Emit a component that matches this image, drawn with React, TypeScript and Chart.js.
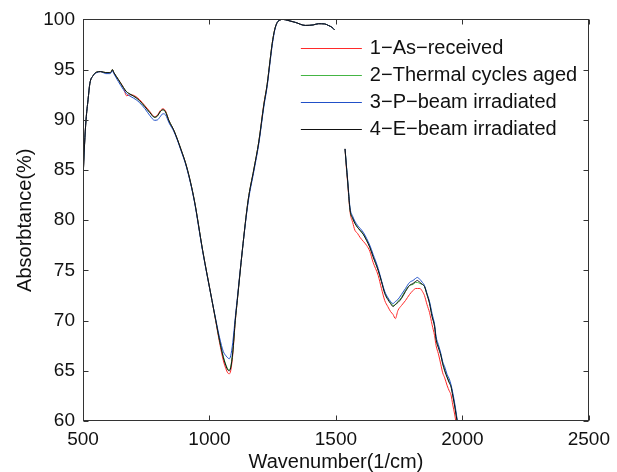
import React, { useEffect, useRef } from "react";
import { Chart, registerables } from "chart.js";
Chart.register(...registerables);

const wavenumbers = [
  500, 506, 512, 520, 527, 540, 554, 570, 590, 606, 612, 616, 622, 640, 660, 672, 690, 710, 724, 745,
  765, 783, 795, 805, 816, 826, 840, 860, 888, 910, 940, 973, 1010, 1025, 1040, 1055, 1065, 1072, 1078, 1084,
  1092, 1102, 1110, 1130, 1153, 1175, 1195, 1215, 1228, 1240, 1248, 1258, 1268, 1280, 1290, 1310, 1340, 1379, 1410, 1431,
  1455, 1470, 1485, 1494, 1515,
  1536, 1541, 1546, 1556, 1566, 1575, 1585, 1595, 1608, 1621, 1634, 1647, 1667, 1680, 1693, 1705, 1716, 1726, 1735, 1745,
  1759, 1775, 1791, 1805, 1815, 1822, 1832, 1842, 1850, 1860, 1870, 1880, 1890, 1896, 1905, 1915, 1922, 1930, 1940, 1948,
  1955, 1962, 1970, 1975, 1979, 1983,
];

const asReceived = [
  84.0, 87.5, 90.0, 92.0, 93.6, 94.4, 94.75, 94.8, 94.7, 94.7, 94.8, 95.0, 94.7, 94.0, 93.2, 92.4, 92.5, 92.3, 92.0, 91.4,
  90.8, 90.3, 90.5, 90.9, 91.1, 90.9, 89.9, 88.9, 87.0, 85.3, 82.0, 77.0, 72.0, 69.9, 67.8, 66.0, 65.2, 64.8, 64.7, 65.0,
  66.6, 69.9, 72.0, 77.0, 82.0, 85.0, 87.8, 91.6, 93.5, 96.0, 97.6, 99.0, 99.7, 99.95, 100.0, 99.9, 99.7, 99.4, 99.45, 99.57,
  99.55, 99.4, 99.2, 98.97, null,
  87.1, 85.3, 83.8, 80.8, 79.8, 79.0, 78.7, 78.3, 77.9, 77.5, 76.9, 75.8, 74.5, 73.2, 72.0, 71.4, 70.9, 70.6, 70.2, 71.0,
  71.5, 72.0, 72.6, 73.0, 73.2, 73.2, 73.2, 72.9, 72.5, 71.6, 70.8, 69.6, 68.5, 67.5, 66.7, 65.6, 64.8, 64.3, 63.5, 63.0,
  62.6, 61.6, 60.6, 59.8, 59.2, 58.6,
];

const thermalAged = [
  84.0, 87.5, 90.0, 92.0, 93.6, 94.4, 94.75, 94.8, 94.7, 94.7, 94.8, 95.0, 94.7, 94.0, 93.2, 92.8, 92.5, 92.2, 91.9, 91.3,
  90.7, 90.25, 90.4, 90.8, 91.0, 90.8, 89.9, 88.9, 87.0, 85.3, 82.0, 77.0, 72.0, 70.0, 68.0, 66.4, 65.6, 65.2, 65.1, 65.4,
  66.9, 70.0, 72.0, 77.0, 82.0, 85.0, 87.8, 91.5, 93.5, 96.0, 97.6, 99.0, 99.7, 99.95, 100.0, 99.9, 99.7, 99.4, 99.45, 99.57,
  99.55, 99.4, 99.2, 98.97, null,
  87.1, 85.5, 84.0, 81.0, 80.2, 79.7, 79.3, 79.0, 78.6, 78.0, 77.3, 76.4, 75.0, 73.9, 72.8, 72.2, 71.8, 71.5, 71.6, 71.9,
  72.3, 73.0, 73.5, 73.6, 73.8, 73.8, 73.7, 73.6, 73.4, 72.6, 71.8, 70.5, 69.5, 68.2, 67.4, 66.6, 65.8, 65.1, 64.4, 63.9,
  63.5, 62.6, 61.5, 60.7, 60.1, 59.5,
];

const pBeam = [
  84.0, 87.5, 90.0, 92.0, 93.6, 94.4, 94.7, 94.8, 94.6, 94.6, 94.7, 94.9, 94.6, 93.8, 93.0, 92.6, 92.3, 92.0, 91.7, 91.1,
  90.4, 89.95, 90.0, 90.3, 90.6, 90.5, 89.7, 88.8, 86.9, 85.2, 81.9, 76.9, 72.0, 70.1, 68.3, 66.9, 66.5, 66.3, 66.2, 66.5,
  67.8, 70.3, 72.2, 77.0, 81.8, 84.8, 87.6, 91.3, 93.3, 95.8, 97.4, 98.9, 99.7, 99.95, 100.0, 99.9, 99.7, 99.4, 99.45, 99.57,
  99.55, 99.4, 99.2, 98.97, null,
  87.1, 85.6, 84.1, 81.2, 80.4, 79.9, 79.5, 79.2, 78.8, 78.2, 77.5, 76.6, 75.2, 74.0, 72.9, 72.3, 71.9, 71.7, 71.9, 72.1,
  72.6, 73.2, 73.8, 74.0, 74.2, 74.3, 74.1, 73.8, 73.5, 72.7, 71.9, 70.7, 69.6, 68.4, 67.6, 66.7, 65.9, 65.4, 64.6, 64.2,
  63.6, 62.8, 61.7, 60.9, 60.2, 59.6,
];

const eBeam = [
  84.0, 87.5, 90.0, 92.0, 93.6, 94.4, 94.75, 94.8, 94.7, 94.7, 94.8, 95.0, 94.7, 94.0, 93.2, 92.8, 92.5, 92.2, 91.9, 91.3,
  90.7, 90.25, 90.4, 90.8, 91.0, 90.8, 89.9, 88.9, 87.0, 85.3, 82.0, 77.0, 72.0, 70.0, 68.0, 66.3, 65.5, 65.1, 65.0, 65.3,
  66.8, 70.0, 72.0, 77.0, 82.0, 85.0, 87.8, 91.5, 93.5, 96.0, 97.6, 99.0, 99.7, 99.95, 100.0, 99.9, 99.7, 99.4, 99.45, 99.57,
  99.55, 99.4, 99.2, 98.97, null,
  87.1, 85.5, 84.0, 81.0, 80.2, 79.7, 79.3, 79.0, 78.6, 78.0, 77.3, 76.35, 75.0, 73.9, 72.7, 72.1, 71.7, 71.4, 71.6, 71.8,
  72.2, 72.9, 73.5, 73.7, 73.9, 74.0, 73.8, 73.6, 73.4, 72.6, 71.7, 70.4, 69.4, 68.1, 67.3, 66.5, 65.7, 65.0, 64.3, 63.8,
  63.4, 62.5, 61.4, 60.6, 60.0, 59.4,
];

const seriesLabels = ["1\u2212As\u2212received", "2\u2212Thermal cycles aged", "3\u2212P\u2212beam irradiated", "4\u2212E\u2212beam irradiated"];
const seriesColors = ["#ff2a2a", "#44b544", "#2150c8", "#111111"];
const xTicks = [500, 1000, 1500, 2000, 2500];
const yTicks = [60, 65, 70, 75, 80, 85, 90, 95, 100];

const FONT = "'Liberation Sans', Arial, Helvetica, sans-serif";

const framePlugin = {
  id: "framePlugin",
  afterDraw(chart: any) {
    const { ctx, chartArea } = chart;
    const { left, right, top, bottom } = chartArea;
    const xs = chart.scales.x;
    const ys = chart.scales.y;
    ctx.save();
    ctx.strokeStyle = "#333333";
    ctx.lineWidth = 1;
    const L = Math.round(left) + 0.5;
    const R = Math.round(right) - 0.5;
    const T = Math.round(top) + 0.5;
    const B = Math.round(bottom) - 0.5;
    ctx.strokeRect(L, T, R - L, B - T);
    const tl = 5;
    ctx.beginPath();
    xTicks.forEach((v) => {
      const p = Math.round(xs.getPixelForValue(v)) + 0.5;
      ctx.moveTo(p, B);
      ctx.lineTo(p, B - tl);
      ctx.moveTo(p, T);
      ctx.lineTo(p, T + tl);
    });
    yTicks.forEach((v) => {
      const p = Math.round(ys.getPixelForValue(v)) + 0.5;
      ctx.moveTo(L, p);
      ctx.lineTo(L + tl, p);
      ctx.moveTo(R, p);
      ctx.lineTo(R - tl, p);
    });
    ctx.stroke();

    // legend
    const lx0 = right - 288;
    const lx1 = lx0 + 61;
    const ly0 = top + 29;
    const step = 27;
    ctx.font = "20px " + FONT;
    ctx.textBaseline = "middle";
    ctx.textAlign = "left";
    seriesLabels.forEach((label, i) => {
      const y = Math.round(ly0 + i * step) + 0.5;
      ctx.strokeStyle = seriesColors[i];
      ctx.lineWidth = 1;
      ctx.beginPath();
      ctx.moveTo(lx0, y);
      ctx.lineTo(lx1, y);
      ctx.stroke();
      ctx.fillStyle = "#111111";
      ctx.fillText(label, lx1 + 8, y);
    });
    ctx.restore();
  },
};

export default function App() {
  const ref = useRef<HTMLCanvasElement | null>(null);
  useEffect(() => {
    if (!ref.current) return;
    const seriesData = [asReceived, thermalAged, pBeam, eBeam];
    const chart = new Chart(ref.current, {
      type: "line",
      data: {
        datasets: seriesData.map((vals, i) => ({
          label: seriesLabels[i],
          data: wavenumbers.map((w, j) => ({ x: w, y: vals[j] as any })),
          borderColor: seriesColors[i],
          borderWidth: 1,
          pointRadius: 0,
          cubicInterpolationMode: "monotone" as const,
          spanGaps: false,
          fill: false,
          order: seriesData.length - 1 - i,
        })),
      },
      options: {
        animation: false,
        responsive: false,
        devicePixelRatio: 1,
        layout: { padding: { left: 0, top: 19, right: 25, bottom: 0 } },
        plugins: { legend: { display: false }, tooltip: { enabled: false } },
        scales: {
          x: {
            type: "linear",
            min: 500,
            max: 2500,
            afterBuildTicks: (s: any) => {
              s.ticks = xTicks.map((v) => ({ value: v }));
            },
            afterFit: (s: any) => {
              s.height = 51;
            },
            grid: { display: false, drawTicks: false },
            border: { display: false },
            ticks: {
              color: "#111111",
              font: { family: FONT, size: 19 },
              padding: 7,
              maxRotation: 0,
              callback: (v: any) => String(v),
            },
            title: {
              display: true,
              text: "Wavenumber(1/cm)",
              color: "#111111",
              font: { family: FONT, size: 20, lineHeight: 1 },
              padding: { top: 0, bottom: 0 },
            },
          },
          y: {
            min: 60,
            max: 100,
            afterBuildTicks: (s: any) => {
              s.ticks = yTicks.map((v) => ({ value: v }));
            },
            afterFit: (s: any) => {
              s.width = 83;
            },
            grid: { display: false, drawTicks: false },
            border: { display: false },
            ticks: { color: "#111111", font: { family: FONT, size: 19 }, padding: 8, callback: (v: any) => String(v) },
            title: {
              display: true,
              text: "Absorbtance(%)",
              color: "#111111",
              font: { family: FONT, size: 20, lineHeight: 1 },
              padding: { top: 15, bottom: 0 },
            },
          },
        },
      },
      plugins: [framePlugin],
    });
    return () => chart.destroy();
  }, []);
  return (
    <div style={{ position: "fixed", left: 0, top: 0, width: 617, height: 472, background: "#fff" }}>
      <canvas ref={ref} width={617} height={472} style={{ display: "block" }} />
    </div>
  );
}
